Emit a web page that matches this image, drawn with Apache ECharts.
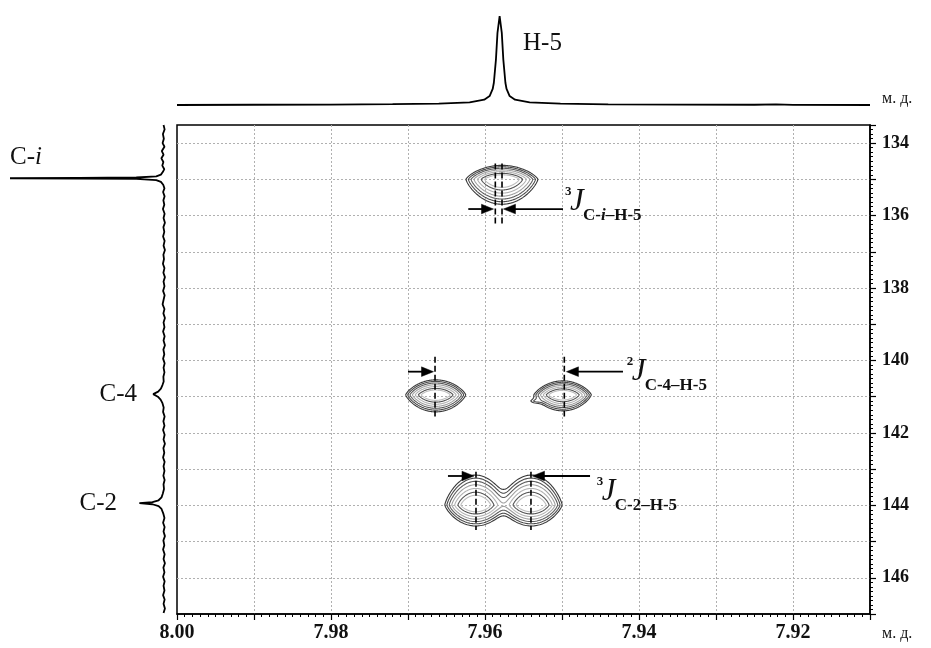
<!DOCTYPE html>
<html><head><meta charset="utf-8">
<script src="https://cdn.jsdelivr.net/npm/echarts@6/dist/echarts.min.js"></script>
<style>html,body{margin:0;padding:0;background:#fff}#c{width:931px;height:648px}</style>
</head><body><div id="c"></div>
<script>
// ================= DATA =================
const hRange = [7.91, 8.00];          // 1H, ppm (reversed)
const cRange = [133.5, 147];          // 13C, ppm (reversed)
const xTickLabels = ['8.00', '7.98', '7.96', '7.94', '7.92'];
const yTickLabels = ['134', '136', '138', '140', '142', '144', '146'];
const unitLabel = 'м. д.';

// 1D 1H projection (top)
const topShift = [8.000, 7.990, 7.980, 7.972, 7.966, 7.9620, 7.9601, 7.9594, 7.9590, 7.95885, 7.95858, 7.95838, 7.9581,
  7.95782, 7.95762, 7.95735, 7.9572, 7.9568, 7.9561, 7.9542, 7.9502, 7.944, 7.935, 7.925, 7.9222, 7.920, 7.910];
const topIntensity = [0.000, 0.003, 0.005, 0.009, 0.015, 0.030, 0.060, 0.100, 0.180, 0.250, 0.510, 0.810, 1.000,
  0.810, 0.510, 0.250, 0.180, 0.100, 0.060, 0.030, 0.015, 0.008, 0.004, 0.003, 0.008, 0.002, 0.000];

// 1D 13C projection (left)
const leftShift = [133.50, 133.62, 133.75, 133.88, 134.00, 134.10, 134.22, 134.32, 134.42, 134.52, 134.62, 134.72, 134.80,
  134.87, 134.92, 134.95, 134.962, 134.970, 134.978, 134.99, 135.02, 135.07, 135.15, 135.25, 135.35, 135.47, 135.58, 135.70,
  135.82, 135.95, 136.07, 136.20, 136.32, 136.45, 136.58, 136.70, 136.83, 136.95, 137.08, 137.20, 137.33, 137.45, 137.58,
  137.70, 137.82, 137.95, 138.08, 138.20, 138.33, 138.45, 138.58, 138.70, 138.83, 138.95, 139.08, 139.20, 139.33, 139.45,
  139.58, 139.70, 139.83, 139.95, 140.08, 140.20, 140.33, 140.45, 140.58, 140.68, 140.78, 140.86, 140.93, 141.00, 141.08,
  141.18, 141.30, 141.42, 141.55, 141.68, 141.80, 141.92, 142.05, 142.18, 142.30, 142.42, 142.55, 142.68, 142.80, 142.92,
  143.05, 143.18, 143.30, 143.42, 143.55, 143.68, 143.78, 143.86, 143.91, 143.94, 143.97, 144.02, 144.10, 144.22, 144.35,
  144.48, 144.60, 144.72, 144.85, 144.97, 145.10, 145.22, 145.35, 145.48, 145.60, 145.72, 145.85, 145.97, 146.10, 146.22,
  146.35, 146.48, 146.60, 146.72, 146.85, 146.97];
const leftIntensity = [0.003, -0.004, 0.007, 0.001, 0.009, -0.003, 0.014, 0.003, 0.017, 0.004, 0.011, -0.002, 0.008,
  0.020, 0.050, 0.180, 0.550, 1.000, 0.550, 0.180, 0.050, 0.020, 0.005, -0.003, 0.006, -0.004, 0.004, -0.002,
  0.007, -0.004, 0.003, -0.006, 0.004, -0.002, 0.006, -0.004, 0.003, -0.006, 0.004, 0.000, 0.007, -0.003, 0.004,
  -0.006, 0.003, -0.003, 0.006, -0.004, 0.003, 0.009, -0.003, 0.004, -0.006, 0.003, -0.003, 0.006, -0.004, 0.003,
  -0.006, 0.004, -0.002, 0.006, -0.004, 0.003, -0.003, 0.004, 0.002, 0.010, 0.020, 0.038, 0.070, 0.040, 0.022,
  0.010, 0.002, 0.006, -0.004, 0.004, -0.003, 0.006, -0.004, 0.003, -0.006, 0.004, -0.002, 0.006, -0.004, 0.003,
  -0.003, 0.004, -0.004, 0.003, 0.000, 0.008, 0.016, 0.035, 0.075, 0.160, 0.075, 0.035, 0.016, 0.005, -0.003,
  0.006, -0.004, 0.003, -0.006, 0.004, -0.002, 0.006, -0.004, 0.003, -0.006, 0.004, -0.003, 0.006, -0.004, 0.003,
  -0.003, 0.006, -0.004, 0.003, -0.006, 0.003];

const projLabels = ['H-5', 'C-i', 'C-4', 'C-2'];

// 2D cross peaks (1H shift, 13C shift, amplitude, widths in ppm)
const peakH = [7.9578, 7.9664, 7.9499, 7.9535, 7.9612, 7.9540];
const peakC = [135.00, 140.95, 140.95, 141.12, 143.99, 143.99];
const peakAmp = [1, 1, 1, 0.06, 1, 1];
const peakWidthH = [0.0027, 0.00225, 0.00214, 0.0009, 0.00232, 0.00232];
const peakWidthCUp = [0.166, 0.178, 0.166, 0.083, 0.355, 0.355];
const peakWidthCDown = [0.296, 0.202, 0.190, 0.083, 0.249, 0.249];
const peakGroup = [0, 1, 2, 2, 3, 3];
const contourLevels = [0.05, 0.074, 0.11, 0.165, 0.25, 0.37, 0.5];

// coupling markers
const markLineH = [7.95866, 7.95779, 7.96649, 7.94970, 7.96117, 7.95403];
const markLineTop = [134.56, 134.56, 139.90, 139.90, 143.07, 143.07];
const markLineBottom = [136.26, 136.26, 141.55, 141.55, 144.68, 144.68];
const arrowFromH = [7.96217, 7.94987, 7.97000, 7.94208, 7.96481, 7.94636];
const arrowToH = [7.95890, 7.95760, 7.96669, 7.94942, 7.96143, 7.95383];
const arrowC = [135.82, 135.82, 140.31, 140.31, 143.19, 143.19];
const jOrder = ['3', '2', '3'];
const jSub = ['C-i–H-5', 'C-4–H-5', 'C-2–H-5'];
const jH = [7.94961, 7.94160, 7.94549];
const jC = [135.61, 140.31, 143.63];

// ================= RENDER =================
const FONT = '"Liberation Serif", "Times New Roman", serif';
const contourColors = ['#3a3a3a', '#4a4a4a', '#5c5c5c', '#a0a0a0', '#b2b2b2', '#555555', '#bebebe'];
const SHAPE_EXP = 1.3;

function italicI(s, bTag, iTag) {
  return s.split('i').map(p => p ? '{' + bTag + '|' + p + '}' : '').join('{' + iTag + '|i}');
}

const groups = [...new Set(peakGroup)];
function groupField(members, h, c) {
  let f = 0;
  for (const i of members) {
    const dx = (h - peakH[i]) / peakWidthH[i];
    const dy = c - peakC[i];
    const wy = dy < 0 ? peakWidthCUp[i] : peakWidthCDown[i];
    f += peakAmp[i] * Math.exp(-dx * dx - Math.pow(Math.abs(dy) / wy, SHAPE_EXP));
  }
  return f;
}

function renderContours(params, api) {
  const g = groups[params.dataIndex];
  const members = [];
  peakGroup.forEach((pg, i) => { if (pg === g) members.push(i); });
  const major = members.filter(i => peakAmp[i] >= 0.5);
  const a0 = api.coord([8.0, 140]), a1 = api.coord([7.99, 141]);
  const pxH = Math.abs(a1[0] - a0[0]) / 0.01, pxC = Math.abs(a1[1] - a0[1]);
  const children = [];
  const NA = 240, step = 1;
  contourLevels.forEach((lv, k) => {
    let centers;
    if (major.length > 1) {
      const a = major[0], b = major[1];
      let minF = Infinity;
      for (let s = 0; s <= 80; s++) {
        const t = s / 80;
        const f = groupField(members, peakH[a] + (peakH[b] - peakH[a]) * t, peakC[a] + (peakC[b] - peakC[a]) * t);
        if (f < minF) minF = f;
      }
      centers = minF >= lv
        ? [[major.reduce((s, i) => s + peakH[i], 0) / major.length, major.reduce((s, i) => s + peakC[i], 0) / major.length]]
        : major.map(i => [peakH[i], peakC[i]]);
    } else {
      centers = [[peakH[major[0]], peakC[major[0]]]];
    }
    centers.forEach(ctr => {
      const pts = [];
      for (let j = 0; j < NA; j++) {
        const th = 2 * Math.PI * j / NA;
        const ux = Math.cos(th) / pxH, uy = Math.sin(th) / pxC;
        let prevF = groupField(members, ctr[0], ctr[1]);
        if (prevF < lv) continue;
        for (let r = step; r <= 160; r += step) {
          const f = groupField(members, ctr[0] + r * ux, ctr[1] + r * uy);
          if (f < lv) {
            const t = (prevF - lv) / (prevF - f);
            const rr = r - step + t * step;
            pts.push(api.coord([ctr[0] + rr * ux, ctr[1] + rr * uy]));
            break;
          }
          prevF = f;
        }
      }
      if (pts.length > 2) {
        children.push({ type: 'polygon', silent: true, shape: { points: pts },
          style: { fill: 'none', stroke: contourColors[k], lineWidth: 1.1 } });
      }
    });
  });
  return { type: 'group', children };
}

function renderMarkLine(params, api) {
  const i = params.dataIndex;
  const p0 = api.coord([markLineH[i], markLineTop[i]]);
  const p1 = api.coord([markLineH[i], markLineBottom[i]]);
  return { type: 'line', silent: true, shape: { x1: p0[0], y1: p0[1], x2: p1[0], y2: p1[1] },
    style: { stroke: '#000', lineWidth: 1.6, lineDash: [6, 3] } };
}

function renderArrow(params, api) {
  const i = params.dataIndex;
  const p0 = api.coord([arrowFromH[i], arrowC[i]]);
  const p1 = api.coord([arrowToH[i], arrowC[i]]);
  const dx = p1[0] - p0[0], dy = p1[1] - p0[1];
  const L = Math.hypot(dx, dy), ux = dx / L, uy = dy / L;
  const hl = 12, hw = 4.8;
  const bx = p1[0] - ux * hl, by = p1[1] - uy * hl;
  return { type: 'group', silent: true, children: [
    { type: 'line', shape: { x1: p0[0], y1: p0[1], x2: bx + ux * 2, y2: by + uy * 2 }, style: { stroke: '#000', lineWidth: 1.8 } },
    { type: 'polygon', shape: { points: [[p1[0], p1[1]], [bx - uy * hw, by + ux * hw], [bx + uy * hw, by - ux * hw]] },
      style: { fill: '#000', stroke: '#000', lineWidth: 0.5 } }
  ] };
}

function renderJ(params, api) {
  const i = params.dataIndex;
  const p = api.coord([jH[i], jC[i]]);
  const base = { fill: '#111', fontFamily: FONT, align: 'left', verticalAlign: 'middle', textAlign: 'left', textVerticalAlign: 'middle' };
  return { type: 'group', x: p[0], y: p[1], silent: true, children: [
    { type: 'text', x: 0, y: -10, style: Object.assign({}, base, { text: jOrder[i], fontSize: 13, fontWeight: 'bold' }) },
    { type: 'text', x: 5, y: 0, style: Object.assign({}, base, { text: 'J', fontSize: 31, fontStyle: 'italic' }) },
    { type: 'text', x: 18, y: 14, style: Object.assign({}, base, {
      text: italicI(jSub[i], 'b', 'i'),
      rich: {
        b: { fontSize: 17, fontWeight: 'bold', fontFamily: FONT, fill: '#111' },
        i: { fontSize: 17, fontWeight: 'bold', fontStyle: 'italic', fontFamily: FONT, fill: '#111' }
      } }) }
  ] };
}

const chart = echarts.init(document.getElementById('c'), null, { renderer: 'canvas' });

const labelFont = { fontFamily: FONT, color: '#111' };

const option = {
  animation: false,
  backgroundColor: '#fff',
  grid: [
    { left: 177, top: 125, width: 693, height: 489, show: true, borderColor: '#000', borderWidth: 1.5, backgroundColor: 'transparent' },
    { left: 177, top: 16, width: 693, height: 89 },
    { left: 10, top: 125, width: 154, height: 489 }
  ],
  xAxis: [
    { gridIndex: 0, type: 'value', min: hRange[0], max: hRange[1], interval: 0.01, inverse: true, position: 'bottom',
      axisLine: { show: true, onZero: false, lineStyle: { color: '#000', width: 1.5 } },
      axisTick: { show: true, inside: false, length: 6, lineStyle: { color: '#000', width: 1.2 } },
      minorTick: { show: true, splitNumber: 10, length: 3, lineStyle: { color: '#000', width: 1 } },
      splitLine: { show: true, showMinLine: false, showMaxLine: false, lineStyle: { color: '#b0b0b0', width: 1, type: [2, 2] } },
      axisLabel: Object.assign({ margin: 9, fontSize: 20, fontWeight: 'bold',
        formatter: v => { const s = v.toFixed(2); return xTickLabels.includes(s) ? s : ''; } }, labelFont) },
    { gridIndex: 1, type: 'value', min: hRange[0], max: hRange[1], inverse: true, show: false },
    { gridIndex: 2, type: 'value', min: 0, max: 1, inverse: true, show: false }
  ],
  yAxis: [
    { gridIndex: 0, type: 'value', min: cRange[0], max: cRange[1], splitNumber: 13, inverse: true, position: 'right',
      axisLine: { show: true, onZero: false, lineStyle: { color: '#000', width: 1.5 } },
      axisTick: { show: true, inside: false, length: 6, lineStyle: { color: '#000', width: 1.2 } },
      minorTick: { show: true, splitNumber: 8, length: 3, lineStyle: { color: '#000', width: 1 } },
      splitLine: { show: true, showMinLine: false, showMaxLine: false, lineStyle: { color: '#b0b0b0', width: 1, type: [2, 2] } },
      axisLabel: Object.assign({ margin: 12, fontSize: 18, fontWeight: 'bold',
        formatter: v => { const s = String(Math.round(v * 1000) / 1000); return yTickLabels.includes(s) ? s : ''; } }, labelFont) },
    { gridIndex: 1, type: 'value', min: 0, max: 1, show: false },
    { gridIndex: 2, type: 'value', min: cRange[0], max: cRange[1], inverse: true, show: false }
  ],
  series: [
    { type: 'custom', name: 'contours', xAxisIndex: 0, yAxisIndex: 0, z: 3,
      data: groups.map(g => { const m = peakGroup.map((pg, i) => pg === g ? i : -1).filter(i => i >= 0); return [peakH[m[0]], peakC[m[0]]]; }),
      renderItem: renderContours },
    { type: 'custom', name: 'couplingLines', xAxisIndex: 0, yAxisIndex: 0, z: 4,
      data: markLineH.map((h, i) => [h, markLineTop[i]]), renderItem: renderMarkLine },
    { type: 'custom', name: 'arrows', xAxisIndex: 0, yAxisIndex: 0, z: 5,
      data: arrowFromH.map((h, i) => [h, arrowC[i]]), renderItem: renderArrow },
    { type: 'custom', name: 'jLabels', xAxisIndex: 0, yAxisIndex: 0, z: 5,
      data: jH.map((h, i) => [h, jC[i]]), renderItem: renderJ },
    { type: 'line', name: '1H', xAxisIndex: 1, yAxisIndex: 1, showSymbol: false, clip: false, silent: true,
      lineStyle: { color: '#000', width: 1.8 },
      data: topShift.map((h, i) => [h, topIntensity[i]]) },
    { type: 'line', name: '13C', xAxisIndex: 2, yAxisIndex: 2, showSymbol: false, clip: false, silent: true,
      lineStyle: { color: '#000', width: 1.8 },
      data: leftShift.map((c, i) => [leftIntensity[i], c]) }
  ],
  graphic: [
    { type: 'text', x: 523, y: 43, style: { text: projLabels[0], fontFamily: FONT, fontSize: 25, fill: '#111', align: 'left', verticalAlign: 'middle', textAlign: 'left', textVerticalAlign: 'middle' } },
    { type: 'text', x: 10, y: 157, style: { text: italicI(projLabels[1], 'n', 'it'), fill: '#111', align: 'left', verticalAlign: 'middle', textAlign: 'left', textVerticalAlign: 'middle',
      rich: { n: { fontFamily: FONT, fontSize: 25, fill: '#111' }, it: { fontFamily: FONT, fontSize: 25, fontStyle: 'italic', fill: '#111' } } } },
    { type: 'text', x: 137, y: 394, style: { text: projLabels[2], fontFamily: FONT, fontSize: 25, fill: '#111', align: 'right', verticalAlign: 'middle', textAlign: 'right', textVerticalAlign: 'middle' } },
    { type: 'text', x: 117, y: 503, style: { text: projLabels[3], fontFamily: FONT, fontSize: 25, fill: '#111', align: 'right', verticalAlign: 'middle', textAlign: 'right', textVerticalAlign: 'middle' } },
    { type: 'text', x: 882, y: 99, style: { text: unitLabel, fontFamily: FONT, fontSize: 16, fill: '#111', align: 'left', verticalAlign: 'middle', textAlign: 'left', textVerticalAlign: 'middle' } },
    { type: 'text', x: 882, y: 634, style: { text: unitLabel, fontFamily: FONT, fontSize: 16, fill: '#111', align: 'left', verticalAlign: 'middle', textAlign: 'left', textVerticalAlign: 'middle' } }
  ]
};
chart.setOption(option);
</script>
</body></html>
